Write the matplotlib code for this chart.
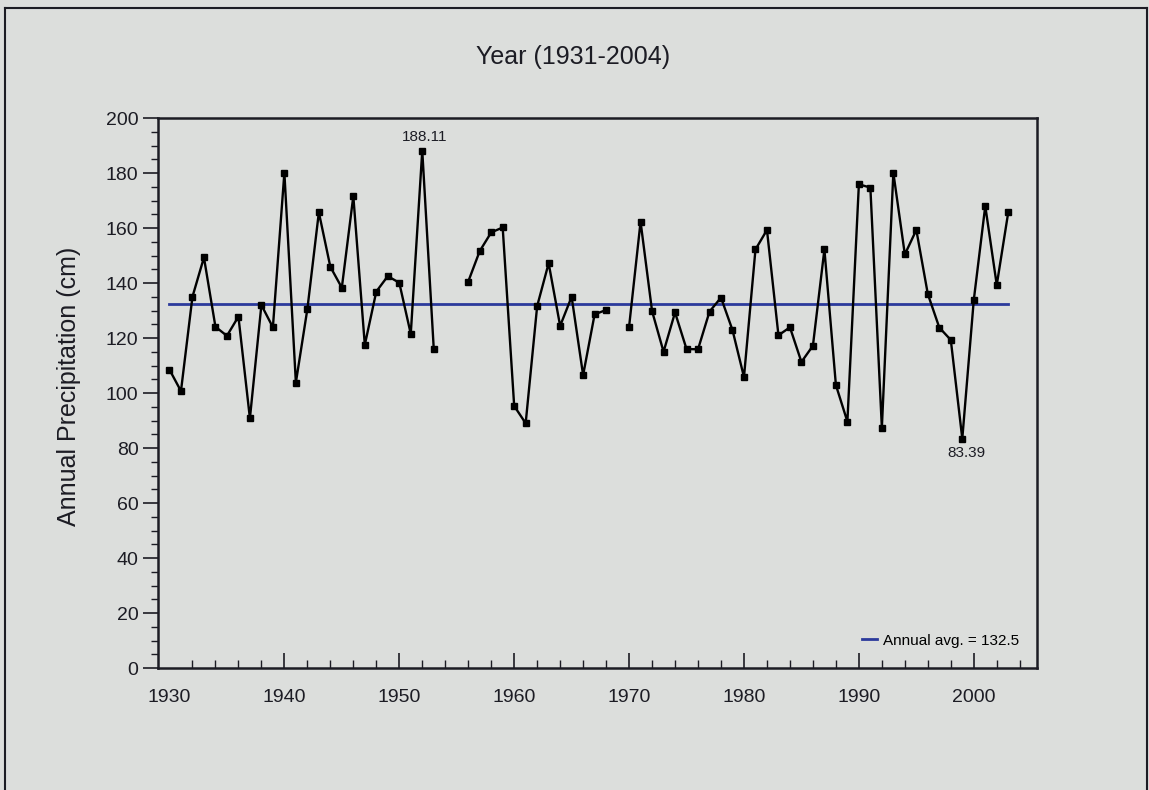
import matplotlib
matplotlib.use('Agg')
import matplotlib.pyplot as plt
from matplotlib.lines import Line2D
from matplotlib.ticker import MultipleLocator
import numpy as np

# annual precipitation series, gaps are missing years
years = np.arange(1930, 2004)
precip_cm = [108.5, 100.7, 135.0, 149.3, 124.1, 120.8, 127.8, 90.8, 132.0, 123.9,
             180.1, 103.8, 130.5, 165.7, 145.9, 138.3, 171.6, 117.5, 136.9, 142.5,
             140.1, 121.5, 188.11, 116.1, np.nan, np.nan, 140.5, 151.6, 158.4, 160.2,
             95.3, 89.0, 131.6, 147.2, 124.4, 135.0, 106.5, 128.6, 130.2, np.nan,
             124.1, 162.3, 129.8, 115.0, 129.3, 116.0, 115.9, 129.6, 134.7, 122.9,
             105.8, 152.2, 159.3, 121.0, 123.9, 111.3, 117.2, 152.2, 102.9, 89.6,
             175.9, 174.7, 87.4, 180.1, 150.4, 159.3, 136.0, 123.8, 119.3, 83.39,
             133.8, 168.0, 139.3, 165.7]
annual_avg = 132.5
max_year, max_val = 1952, 188.11
min_year, min_val = 1999, 83.39

bg = '#dcdedc'
ink = '#1c1c24'
plt.rcParams['font.family'] = ['Liberation Sans', 'DejaVu Sans']

fig = plt.figure(figsize=(11.49, 7.90), dpi=100, facecolor=bg)
ax = fig.add_axes([0.1375, 0.1544, 0.765, 0.6962])
ax.set_facecolor(bg)

ax.plot(years, precip_cm, color='black', lw=1.7, marker='s', ms=4.5,
        mfc='black', mec='black', zorder=3)
ax.plot([years[0], years[-1]], [annual_avg, annual_avg], color='#2b3a9c', lw=2,
        label=f'Annual avg. = {annual_avg}', zorder=2)

ax.annotate(f'{max_val:.2f}', (max_year, max_val), xytext=(2, 10),
            textcoords='offset points', ha='center', va='center', fontsize=11, color=ink)
ax.annotate(f'{min_val:.2f}', (min_year, min_val), xytext=(3, -10.5),
            textcoords='offset points', ha='center', va='center', fontsize=11, color=ink)

ax.set_xlim(1929, 2005.5)
ax.set_ylim(0, 200)
ax.xaxis.set_major_locator(MultipleLocator(10))
ax.xaxis.set_minor_locator(MultipleLocator(2))
ax.yaxis.set_major_locator(MultipleLocator(20))
ax.yaxis.set_minor_locator(MultipleLocator(5))
ax.tick_params(axis='x', which='major', direction='in', length=11, width=1.2,
               pad=15, labelsize=14, colors=ink)
ax.tick_params(axis='x', which='minor', direction='in', length=5.5, width=1, colors=ink)
ax.tick_params(axis='y', which='major', direction='out', length=11, width=1.2,
               pad=3, labelsize=14, colors=ink)
ax.tick_params(axis='y', which='minor', direction='out', length=5, width=1, colors=ink)
for s in ax.spines.values():
    s.set_linewidth(1.8)
    s.set_color(ink)

ax.set_ylabel('Annual Precipitation (cm)', fontsize=18, color=ink)
ax.yaxis.set_label_coords(-0.088, 0.512)
fig.text(573 / 1149, 1 - 57 / 790, 'Year (1931-2004)', ha='center', va='center',
         fontsize=18, color=ink)

ax.legend(loc='center right', bbox_to_anchor=(0.980, 0.05), frameon=False,
          fontsize=11, handlelength=1.0, handletextpad=0.4, borderpad=0, borderaxespad=0)

# page frame around the figure
fx0, fx1, fy1 = 5 / 1149, 1147 / 1149, 1 - 8 / 790
for xs, ys in [([fx0, fx0], [0, fy1]), ([fx0, fx1], [fy1, fy1]), ([fx1, fx1], [0, fy1])]:
    fig.add_artist(Line2D(xs, ys, color=ink, lw=1.5, transform=fig.transFigure))

# no tick mark at the first labelled year, it sits on the data start
fig.canvas.draw()
for t in ax.xaxis.get_major_ticks():
    if abs(t.get_loc() - 1930) < 0.1:
        t.tick1line.set_visible(False)

fig.savefig('out.png', dpi=100, facecolor=bg)
